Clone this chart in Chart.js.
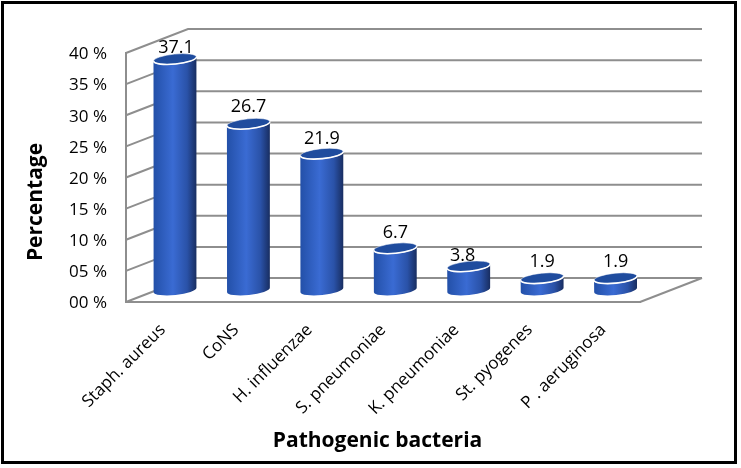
<!DOCTYPE html>
<html>
<head>
<meta charset="utf-8">
<style>
  html, body { margin: 0; padding: 0; background: #fff; }
  canvas { display: block; }
</style>
<script src="https://cdn.jsdelivr.net/npm/chart.js@4"></script>
</head>
<body>
<canvas id="grafica" width="741" height="468"></canvas>
<script>
var bacterias = ["Staph. aureus", "CoNS", "H. influenzae", "S. pneumoniae", "K. pneumoniae", "St. pyogenes", "P . aeruginosa"];
var porcentajes = [37.1, 26.7, 21.9, 6.7, 3.8, 1.9, 1.9];
var etiquetasY = ["00 %", "05 %", "10 %", "15 %", "20 %", "25 %", "30 %", "35 %", "40 %"];

// the labels were moved by hand in the original, so they do not sit at a fixed distance
var subirEtiqueta = [11, 17, 15, 15, 10, 16, 16];
var moverEtiqueta = [1, 0, 0, 0, -6, 0, 0];

var FUENTE = "'Open Sans', sans-serif";
var GRIS = "#8e8e8e";
var fondoX = 62, fondoY = 24;   // back wall offset
var barraX = 12.3, barraY = 12; // bars stand between front and back
var radioY = 5, giro = -0.1;

var pseudo3d = {
  id: "pseudo3d",
  beforeDraw: function(c) {
    var ctx = c.ctx;
    ctx.save();
    ctx.fillStyle = "#fff";
    ctx.fillRect(0, 0, c.width, c.height);
    ctx.strokeStyle = "#000";
    ctx.lineWidth = 3;
    ctx.strokeRect(2.5, 2.5, 733, 460);
    ctx.restore();
  },
  beforeDatasetsDraw: function(c) {
    var ctx = c.ctx, a = c.chartArea, y = c.scales.y;
    ctx.save();
    ctx.strokeStyle = GRIS;
    ctx.lineWidth = 2;
    y.ticks.forEach(function(t) {
      var py = y.getPixelForValue(t.value);
      ctx.beginPath();
      ctx.moveTo(a.left, py);
      ctx.lineTo(a.left + fondoX, py - fondoY);
      ctx.lineTo(a.right + fondoX, py - fondoY);
      ctx.stroke();
    });
    ctx.beginPath();
    ctx.moveTo(a.right, a.bottom);
    ctx.lineTo(a.right + fondoX, a.bottom - fondoY);
    ctx.stroke();
    ctx.restore();
  },
  afterDatasetsDraw: function(c) {
    var ctx = c.ctx;
    c.getDatasetMeta(0).data.forEach(function(bar, i) {
      var cx = bar.x + barraX;
      var rx = bar.width / 2;
      var top = bar.y - barraY;
      var base = bar.base - barraY;
      var dy = rx * Math.sin(giro);

      var g = ctx.createLinearGradient(cx - rx, 0, cx + rx, 0);
      g.addColorStop(0, "#2350a8");
      g.addColorStop(0.45, "#3a6bd3");
      g.addColorStop(0.78, "#2a52a8");
      g.addColorStop(1, "#182d60");

      ctx.save();
      // body: lower half of the base ellipse, up the side, back under the top ellipse
      ctx.beginPath();
      ctx.ellipse(cx, base, rx, radioY, giro, 0, Math.PI);
      ctx.lineTo(cx - rx, top - dy);
      ctx.ellipse(cx, top, rx, radioY, giro, Math.PI, 0, true);
      ctx.closePath();
      ctx.fillStyle = g;
      ctx.fill();

      // top
      ctx.beginPath();
      ctx.ellipse(cx, top, rx, radioY, giro, 0, Math.PI * 2);
      ctx.fillStyle = "#1f4c9e";
      ctx.fill();
      ctx.strokeStyle = "rgba(255,255,255,0.55)";
      ctx.lineWidth = 1;
      ctx.stroke();
      ctx.beginPath();
      ctx.ellipse(cx, top, rx, radioY, giro, 0, Math.PI);
      ctx.strokeStyle = "#fff";
      ctx.lineWidth = 1.6;
      ctx.stroke();

      // value
      ctx.fillStyle = "#000";
      ctx.font = "18px " + FUENTE;
      ctx.textAlign = "center";
      ctx.textBaseline = "middle";
      ctx.fillText(porcentajes[i].toFixed(1), cx + moverEtiqueta[i], top - subirEtiqueta[i]);
      ctx.restore();
    });
  },
  afterDraw: function(c) {
    // axis titles: in the original they are not centred on the plot
    var ctx = c.ctx;
    ctx.save();
    ctx.fillStyle = "#000";
    ctx.font = "bold 21px " + FUENTE;
    ctx.textAlign = "center";
    ctx.textBaseline = "middle";
    ctx.fillText("Pathogenic bacteria", 377.5, 441);
    ctx.translate(36, 202);
    ctx.rotate(-Math.PI / 2);
    ctx.fillText("Percentage", 0, 0);
    ctx.restore();
  }
};

var grafica = document.getElementById("grafica");
var chart = new Chart(grafica, {
  type: "bar",
  data: {
    labels: bacterias,
    datasets: [{
      data: porcentajes,
      backgroundColor: "rgba(0,0,0,0)",
      categoryPercentage: 1,
      barPercentage: 0.586
    }]
  },
  plugins: [pseudo3d],
  options: {
    responsive: false,
    animation: false,
    layout: { padding: { left: 20, right: 101, top: 53, bottom: 16 } },
    plugins: { legend: { display: false }, tooltip: { enabled: false } },
    scales: {
      x: {
        grid: { display: false, drawTicks: false },
        border: { display: true, color: GRIS, width: 2 },
        ticks: {
          color: "#000",
          font: { family: FUENTE, size: 17 },
          maxRotation: 45,
          minRotation: 45,
          padding: 18
        },
        afterFit: function(s) { s.height = 150; }
      },
      y: {
        min: 0,
        max: 40,
        grid: { display: false, drawTicks: false },
        border: { display: true, color: GRIS, width: 2 },
        ticks: {
          stepSize: 5,
          color: "#000",
          font: { family: FUENTE, size: 17 },
          padding: 19,
          labelOffset: 1.5,
          callback: function(v, i) { return etiquetasY[i]; }
        },
        afterFit: function(s) { s.width = 106; }
      }
    }
  }
});
</script>
</body>
</html>
